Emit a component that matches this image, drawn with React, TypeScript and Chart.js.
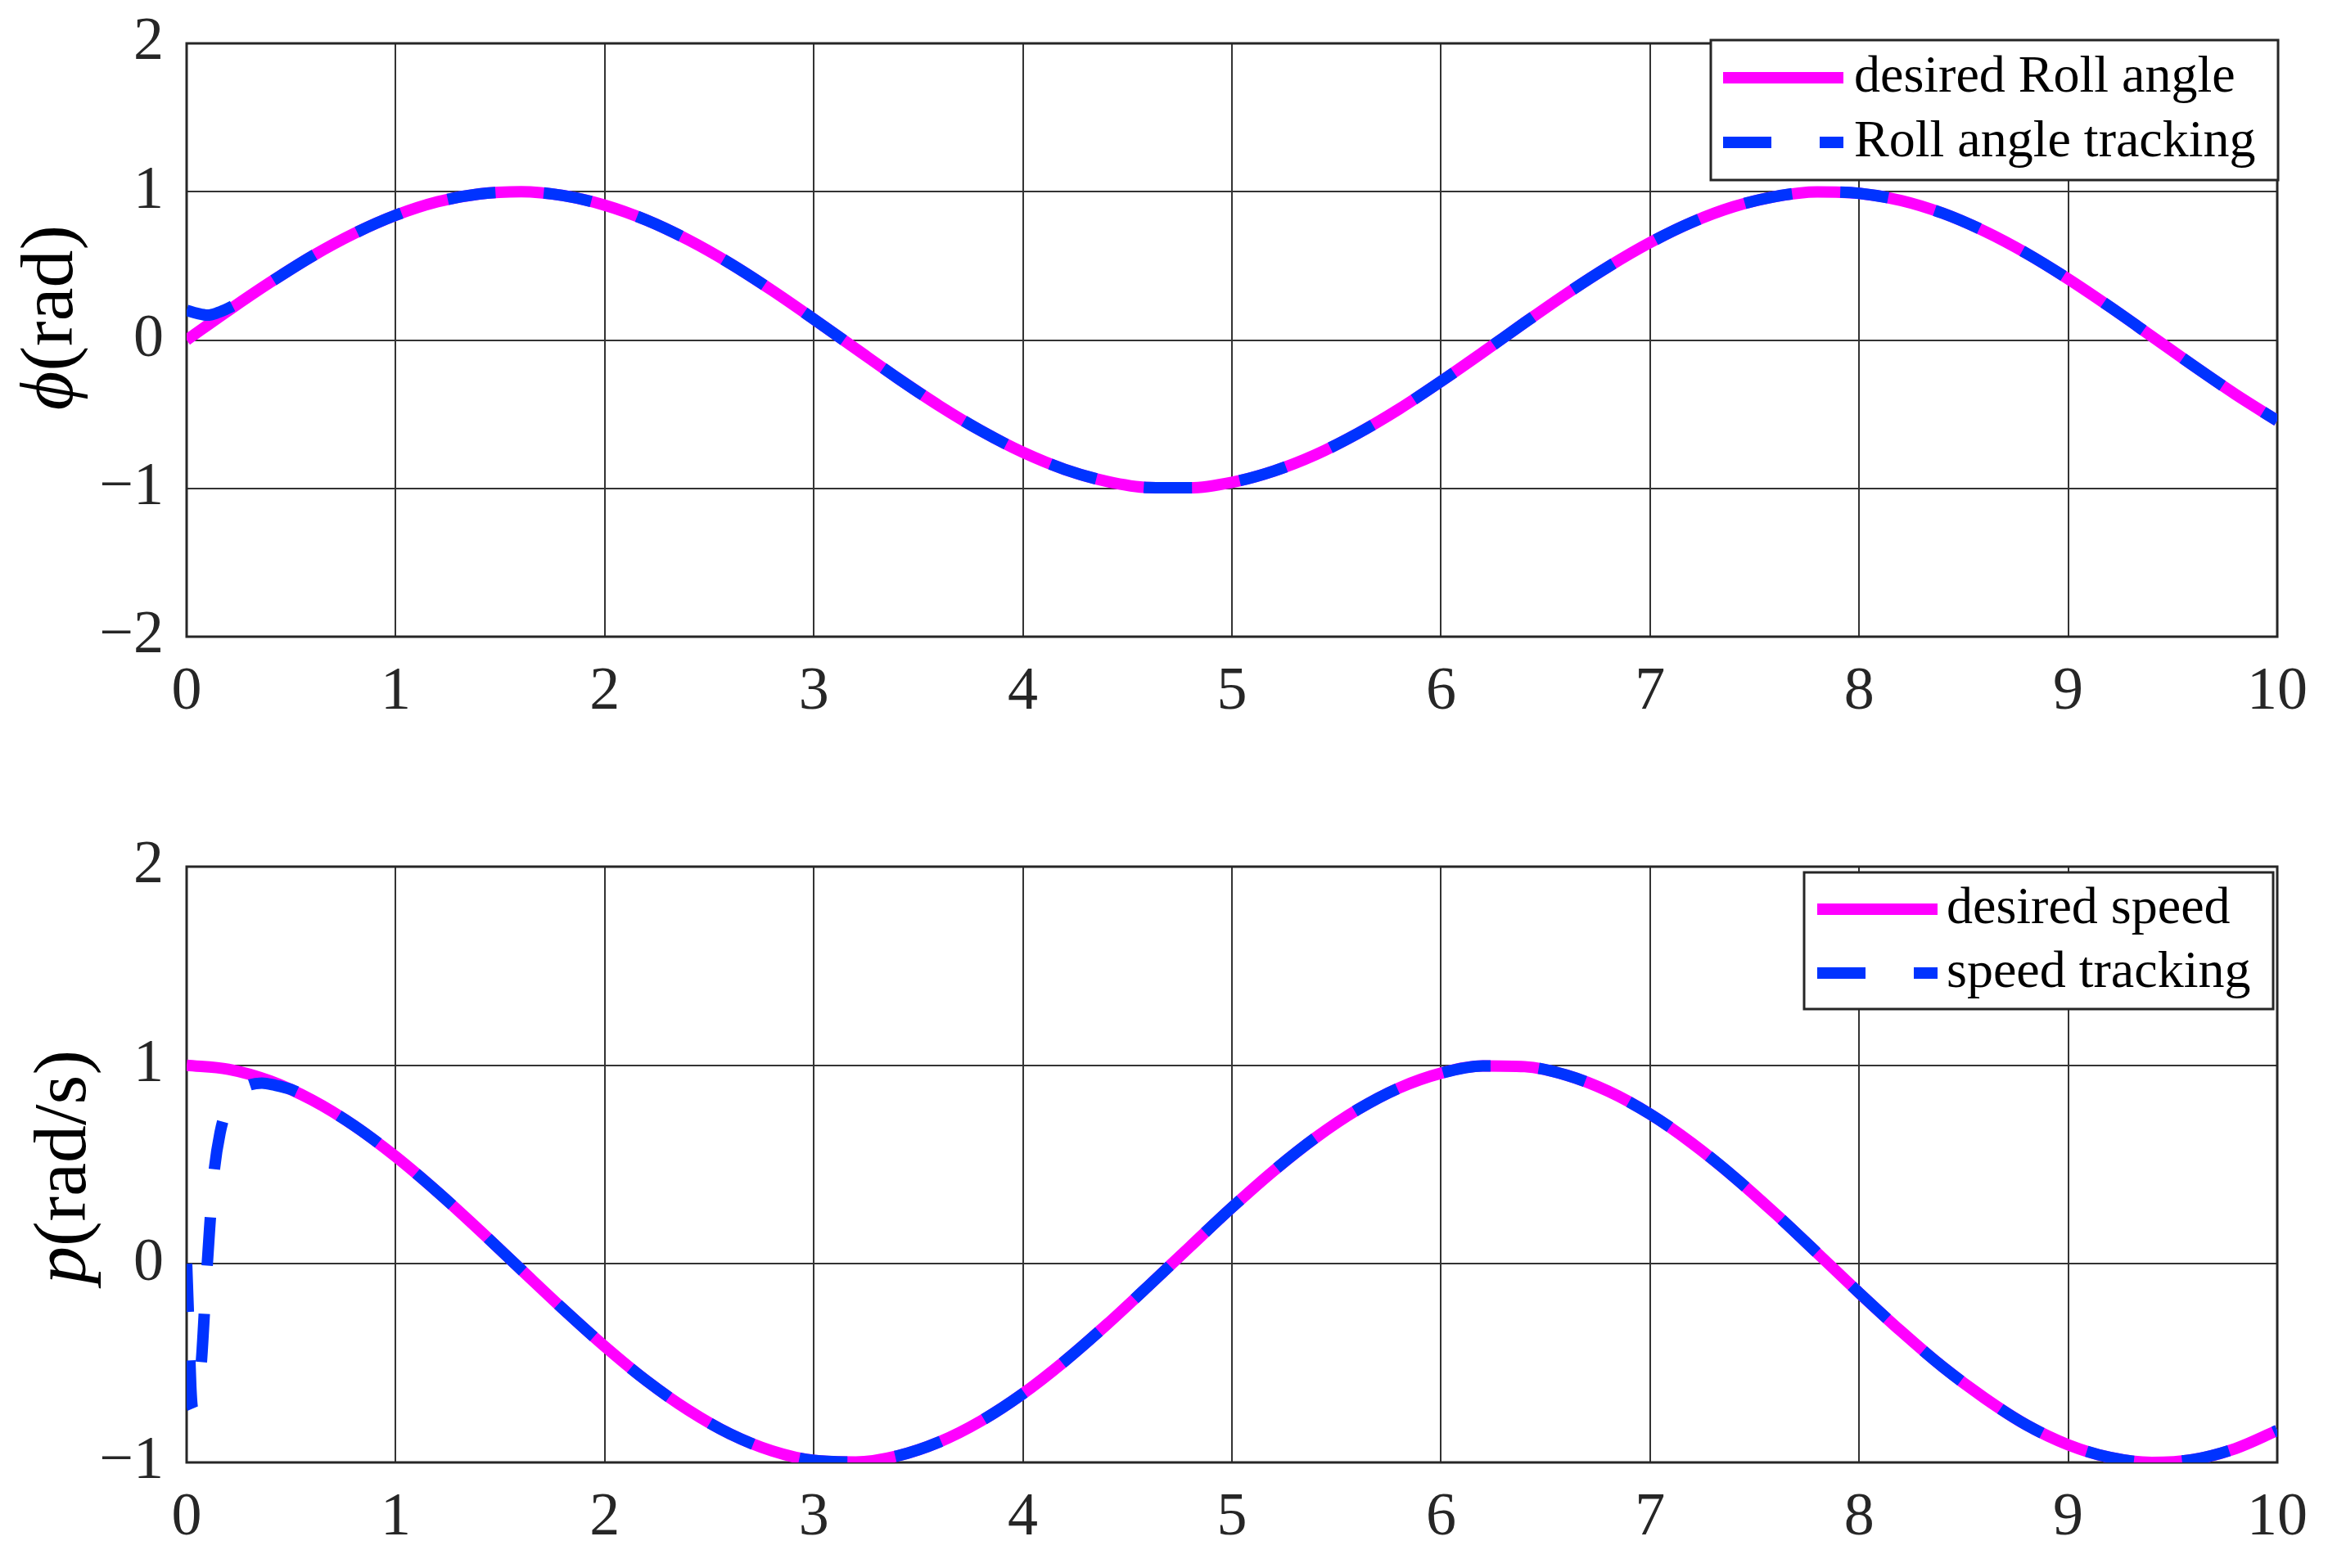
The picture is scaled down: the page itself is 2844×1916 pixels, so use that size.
import React, { useEffect, useRef } from 'react';
import { Chart, registerables } from 'chart.js';

Chart.register(...registerables);

// ---------------- data ----------------
const timeAxis = [
  0, 0.2, 0.4, 0.6, 0.8, 1.0, 1.2, 1.4, 1.6, 1.8, 2.0, 2.2, 2.4, 2.6, 2.8, 3.0, 3.2, 3.4, 3.6, 3.8,
  4.0, 4.2, 4.4, 4.6, 4.8, 5.0, 5.2, 5.4, 5.6, 5.8, 6.0, 6.2, 6.4, 6.6, 6.8, 7.0, 7.2, 7.4, 7.6, 7.8,
  8.0, 8.2, 8.4, 8.6, 8.8, 9.0, 9.2, 9.4, 9.6, 9.8, 10.0,
];
const desiredRoll = [
  0.0, 0.199, 0.389, 0.565, 0.717, 0.841, 0.932, 0.985, 1.0, 0.974, 0.909, 0.808, 0.675, 0.516, 0.335, 0.141,
  -0.058, -0.256, -0.443, -0.612, -0.757, -0.872, -0.952, -0.994, -0.996, -0.959, -0.883, -0.773, -0.631,
  -0.465, -0.279, -0.083, 0.117, 0.312, 0.494, 0.657, 0.794, 0.899, 0.968, 0.999, 0.989, 0.941, 0.855,
  0.734, 0.585, 0.412, 0.223, 0.025, -0.174, -0.366, -0.544,
];
const rollTrackTime = [0, 0.05, 0.1, 0.15, 0.2, 0.26];
const rollTrackValue = [0.2, 0.18, 0.168, 0.185, 0.215, 0.26];
const rollJoinTime = 0.4;

const desiredSpeed = [
  1.0, 0.98, 0.921, 0.825, 0.697, 0.54, 0.362, 0.17, -0.029, -0.227, -0.416, -0.589, -0.737, -0.857, -0.942,
  -0.99, -0.998, -0.967, -0.897, -0.791, -0.654, -0.49, -0.307, -0.112, 0.087, 0.284, 0.469, 0.635, 0.776,
  0.886, 0.96, 0.997, 0.993, 0.95, 0.869, 0.754, 0.608, 0.439, 0.252, 0.054, -0.146, -0.339, -0.519,
  -0.676, -0.811, -0.911, -0.975, -1.0, -0.985, -0.93, -0.839,
];
const speedTrackTime = [0, 0.01, 0.02, 0.03, 0.05, 0.07, 0.09, 0.11, 0.13, 0.16, 0.2, 0.24, 0.3, 0.36, 0.42, 0.5];
const speedTrackValue = [0, -0.3, -0.62, -0.73, -0.66, -0.5, -0.15, 0.18, 0.45, 0.66, 0.8, 0.865, 0.9, 0.91, 0.9, 0.878];
const speedJoinTime = 0.6;

const xTickValues = [0, 1, 2, 3, 4, 5, 6, 7, 8, 9, 10];
const rollTickValues = [-2, -1, 0, 1, 2];
const speedTickValues = [-1, 0, 1, 2];

const rollLabels = ['desired Roll angle', 'Roll angle tracking'];
const speedLabels = ['desired speed', 'speed tracking'];

// ---------------- styling ----------------
const SERIF = "'Liberation Serif', 'Times New Roman', 'DejaVu Serif', serif";
const MAGENTA = '#ff00ff';
const BLUE = '#0033ff';
const AXIS = '#262626';
const W = 2844;
const H = 958;

const toPoints = (xs: number[], ys: number[]) => xs.map((x, i) => ({ x, y: ys[i] }));

const framePlugin = {
  id: 'frameBox',
  beforeDatasetsDraw(chart: any) {
    const { ctx, chartArea } = chart;
    ctx.save();
    ctx.strokeStyle = AXIS;
    ctx.lineWidth = 3;
    ctx.strokeRect(chartArea.left, chartArea.top, chartArea.right - chartArea.left, chartArea.bottom - chartArea.top);
    ctx.restore();
  },
};

const titlePlugin = {
  id: 'yTitle',
  afterDraw(chart: any, _args: any, opts: any) {
    const { ctx } = chart;
    ctx.save();
    ctx.translate(opts.x, opts.y);
    ctx.rotate(-Math.PI / 2);
    ctx.textBaseline = 'middle';
    ctx.textAlign = 'left';
    ctx.fillStyle = '#000';
    const italic = `italic ${opts.size}px ${SERIF}`;
    const normal = `${opts.size}px ${SERIF}`;
    ctx.font = italic;
    const w1 = ctx.measureText(opts.symbol).width;
    ctx.font = normal;
    const w2 = ctx.measureText(opts.rest).width;
    const start = -(w1 + w2) / 2;
    ctx.font = italic;
    ctx.fillText(opts.symbol, start, 0);
    ctx.font = normal;
    ctx.fillText(opts.rest, start + w1, 0);
    ctx.restore();
  },
};

const legendPlugin = {
  id: 'boxLegend',
  afterDraw(chart: any, _args: any, opts: any) {
    const { ctx } = chart;
    const [x1, y1, x2, y2] = opts.box;
    ctx.save();
    ctx.fillStyle = '#fff';
    ctx.fillRect(x1, y1, x2 - x1, y2 - y1);
    ctx.strokeStyle = AXIS;
    ctx.lineWidth = 3;
    ctx.strokeRect(x1, y1, x2 - x1, y2 - y1);
    chart.data.datasets.forEach((ds: any, i: number) => {
      const y = opts.rows[i];
      ctx.beginPath();
      ctx.setLineDash(ds.borderDash || []);
      ctx.lineWidth = ds.borderWidth;
      ctx.strokeStyle = ds.borderColor;
      ctx.lineCap = 'butt';
      ctx.moveTo(opts.sample[0], y);
      ctx.lineTo(opts.sample[1], y);
      ctx.stroke();
      ctx.setLineDash([]);
      ctx.fillStyle = '#000';
      ctx.font = `${opts.fontSize}px ${SERIF}`;
      ctx.textBaseline = 'middle';
      ctx.textAlign = 'left';
      ctx.fillText(ds.label, opts.textX, y);
    });
    ctx.restore();
  },
};

function makeConfig(p: any) {
  const tickFont = { family: SERIF, size: 74 };
  return {
    type: 'line',
    data: {
      datasets: [
        {
          label: p.labels[0],
          data: toPoints(timeAxis, p.desired),
          borderColor: MAGENTA,
          borderWidth: 14,
          pointRadius: 0,
          cubicInterpolationMode: 'monotone',
          order: 2,
        },
        {
          label: p.labels[1],
          data: [
            ...toPoints(p.trackT, p.trackV),
            ...toPoints(timeAxis, p.desired).filter((pt) => pt.x >= p.joinT),
          ],
          borderColor: BLUE,
          borderWidth: 14,
          borderDash: [59, 59],
          pointRadius: 0,
          cubicInterpolationMode: 'monotone',
          order: 1,
        },
      ],
    },
    options: {
      responsive: false,
      animation: false,
      devicePixelRatio: 1,
      layout: { padding: { left: 0, right: 62, top: p.padTop, bottom: 0 } },
      plugins: {
        legend: { display: false },
        tooltip: { enabled: false },
        yTitle: p.title,
        boxLegend: p.legend,
      },
      scales: {
        x: {
          type: 'linear',
          min: 0,
          max: 10,
          afterBuildTicks: (s: any) => {
            s.ticks = xTickValues.map((v) => ({ value: v }));
          },
          afterFit: (s: any) => {
            s.height = p.xHeight;
          },
          ticks: {
            font: tickFont,
            color: AXIS,
            padding: 24,
            maxRotation: 0,
            autoSkip: false,
            callback: (v: any) => String(v),
          },
          grid: { color: '#333333', lineWidth: 2, drawTicks: false },
          border: { display: false },
        },
        y: {
          type: 'linear',
          min: p.yTicks[0],
          max: p.yTicks[p.yTicks.length - 1],
          afterBuildTicks: (s: any) => {
            s.ticks = p.yTicks.map((v: number) => ({ value: v }));
          },
          afterFit: (s: any) => {
            s.width = 228;
          },
          ticks: {
            font: tickFont,
            color: AXIS,
            padding: 6,
            autoSkip: false,
            callback: (v: any) => (v < 0 ? '\u2212' + Math.abs(v) : String(v)),
          },
          grid: {
            color: '#333333',
            lineWidth: 2,
            drawTicks: true,
            tickLength: 22,
            tickColor: 'rgba(0,0,0,0)',
          },
          border: { display: false },
        },
      },
    },
    plugins: [framePlugin, titlePlugin, legendPlugin],
  };
}

function Panel({ cfg }: { cfg: any }) {
  const ref = useRef<HTMLCanvasElement | null>(null);
  useEffect(() => {
    if (!ref.current) return;
    const chart = new Chart(ref.current, makeConfig(cfg) as any);
    return () => chart.destroy();
  }, []);
  return <canvas ref={ref} width={W} height={H} style={{ display: 'block', width: W, height: H }} />;
}

const topPanel = {
  desired: desiredRoll,
  trackT: rollTrackTime,
  trackV: rollTrackValue,
  joinT: rollJoinTime,
  labels: rollLabels,
  yTicks: rollTickValues,
  padTop: 53,
  xHeight: 180,
  title: { symbol: '\u03D5', rest: '(rad)', x: 64, y: 388, size: 92 },
  legend: { box: [2090, 49, 2783, 220], rows: [95, 174], sample: [2105, 2252], textX: 2265, fontSize: 64 },
};

const bottomPanel = {
  desired: desiredSpeed,
  trackT: speedTrackTime,
  trackV: speedTrackValue,
  joinT: speedJoinTime,
  labels: speedLabels,
  yTicks: speedTickValues,
  padTop: 101,
  xHeight: 129,
  title: { symbol: 'p', rest: '(rad/s)', x: 80, y: 468, size: 92 },
  legend: { box: [2204, 108, 2777, 275], rows: [153, 231], sample: [2220, 2367], textX: 2378, fontSize: 64 },
};

export default function App() {
  return (
    <div style={{ position: 'absolute', left: 0, top: 0, width: W, height: 2 * H, background: '#fff' }}>
      <Panel cfg={topPanel} />
      <Panel cfg={bottomPanel} />
    </div>
  );
}
